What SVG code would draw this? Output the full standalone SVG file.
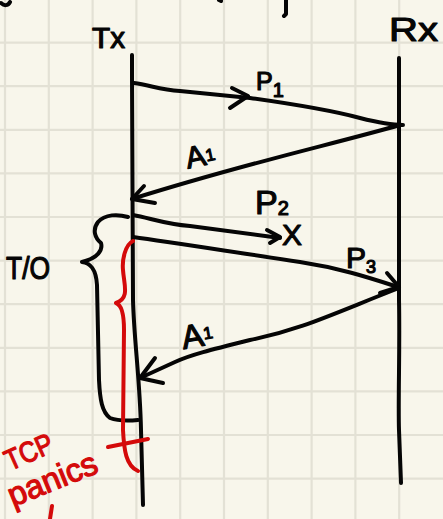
<svg xmlns="http://www.w3.org/2000/svg" width="443" height="519" viewBox="0 0 443 519">
  <style>
    .grid { stroke: #e3e1d5; stroke-width: 2.2; fill: none; }
    .ink { stroke: #050505; stroke-width: 4; fill: none; stroke-linecap: round; stroke-linejoin: round; }
    .red { stroke: #d40a0a; stroke-width: 4; fill: none; stroke-linecap: round; stroke-linejoin: round; }
    .lbl { font-family: "Liberation Sans", Arial, sans-serif; fill: #050505; stroke: #050505; stroke-width: 1.2; stroke-linejoin: round; }
    .rlbl { font-family: "Liberation Sans", Arial, sans-serif; fill: #d40a0a; stroke: #d40a0a; stroke-width: 1.2; stroke-linejoin: round; }
  </style>
  <rect width="443" height="519" fill="#f8f6eb"/>
  <g id="grid">
    <path class="grid" d="M5,0V519 M48.8,0V519 M92.6,0V519 M136.4,0V519 M180.2,0V519 M224,0V519 M267.8,0V519 M311.6,0V519 M355.4,0V519 M399.2,0V519 M0,42.6H443 M0,86.2H443 M0,129.8H443 M0,173.4H443 M0,217H443 M0,260.6H443 M0,304.2H443 M0,347.8H443 M0,391.4H443 M0,435H443 M0,478.6H443"/>
  </g>
  <g id="fragments">
    <path class="ink" d="M1,3 C4,6 8,6 10,2"/>
    <path class="ink" d="M219,0 L221,1"/>
    <path class="ink" d="M286,0 L286,14 L284,16" stroke-width="5"/>
  </g>
  <g id="tx">
    <path class="ink" d="M132,55 C132,150 133,250 133,300 C134,340 140,380 141,430 L143,505"/>
    <text class="lbl" x="92" y="48" font-size="29" textLength="33" lengthAdjust="spacingAndGlyphs">Tx</text>
  </g>
  <g id="rx">
    <path class="ink" d="M399,58 L399,300 C400,350 398,400 399,430 L401,483"/>
    <text class="lbl" x="389" y="41" font-size="34" textLength="49" lengthAdjust="spacingAndGlyphs">Rx</text>
  </g>
  <g id="connectors">
    <g id="p1">
      <path class="ink" d="M134,83 C150,85 160,90 180,91 L250,98 C300,105 330,110 360,118 C380,123 395,125 403,125"/>
      <path class="ink" d="M232,88 L248,96 L230,108"/>
      <text class="lbl" x="256" y="90" font-size="25">P<tspan font-size="20" dy="7">1</tspan></text>
    </g>
    <g id="a1-first">
      <path class="ink" d="M400,125 C330,145 250,162 132,199"/>
      <path class="ink" d="M144,186 L132,199 L155,203"/>
      <text class="lbl" x="186" y="168" font-size="30" transform="rotate(-12 190 160)">A<tspan font-size="17" dy="-3">1</tspan></text>
    </g>
    <g id="p2">
      <path class="ink" d="M133,215 C150,218 165,224 190,226 L280,238"/>
      <path class="ink" d="M267,230 L280,237 L270,243"/>
      <text class="lbl" x="255" y="214" font-size="34">P<tspan font-size="20" dy="1">2</tspan></text>
      <text class="lbl" x="282" y="245" font-size="30">X</text>
    </g>
    <g id="p3">
      <path class="ink" d="M133,237 C170,242 220,250 300,262 C340,268 370,278 398,287"/>
      <path class="ink" d="M387,273 L399,287 L380,293"/>
      <text class="lbl" x="346" y="268" font-size="30">P<tspan font-size="18" dy="5">3</tspan></text>
    </g>
    <g id="a1-second">
      <path class="ink" d="M399,288 C330,315 300,330 250,340 C210,350 190,355 175,362 L140,378"/>
      <path class="ink" d="M155,358 L140,378 L163,383"/>
      <text class="lbl" x="182" y="348" font-size="33" transform="rotate(-10 190 340)">A<tspan font-size="17" dy="-6">1</tspan></text>
    </g>
  </g>
  <g id="timeout">
    <path class="ink" d="M128,217 C118,214 105,214 98,222 C92,230 95,238 101,243 C103,250 98,258 82,262 C90,263 96,268 97,285 L99,380 C100,400 102,412 110,418 C118,421 128,421 138,420"/>
    <text class="lbl" x="6" y="279" font-size="32" textLength="44" lengthAdjust="spacingAndGlyphs">T/O</text>
  </g>
  <g id="tcp-panics">
    <path class="red" d="M133,241 C125,245 122,260 123,270 C124,285 130,298 116,303 C122,305 124,315 124,330 L123,430 C124,450 126,466 138,471"/>
    <path class="red" d="M108,447 L148,439"/>
    <path class="red" d="M52,506 L50,519"/>
    <text class="rlbl" x="10" y="471" font-size="29" textLength="50" lengthAdjust="spacingAndGlyphs" transform="rotate(-24 10 471)">TCP</text>
    <text class="rlbl" x="13" y="507" font-size="33" textLength="94" lengthAdjust="spacingAndGlyphs" transform="rotate(-22 13 507)">panics</text>
  </g>
</svg>
